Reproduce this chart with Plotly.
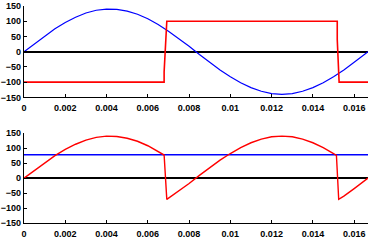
import plotly.graph_objects as go
from plotly.subplots import make_subplots

# --- data ---
t_sine = [0, 0.0005, 0.001, 0.0015, 0.002, 0.0025, 0.003, 0.0035, 0.004, 0.0045,
          0.005, 0.0055, 0.006, 0.0065, 0.007, 0.0075, 0.008, 0.0085, 0.009, 0.0095,
          0.010, 0.0105, 0.011, 0.0115, 0.012, 0.0125, 0.013, 0.0135, 0.014, 0.0145,
          0.015, 0.0155, 0.016, 0.0165, 0.01667]
v_sine = [0, 26, 52, 75, 96, 113, 127, 136, 140, 139,
          133, 123, 108, 89, 67, 43, 18, -9, -35, -60,
          -82, -102, -118, -130, -138, -140, -138, -130, -118, -102,
          -82, -60, -35, -9, 0]

t_square = [0, 0.00679, 0.00679, 0.00692, 0.01518, 0.01518, 0.01527, 0.01667]
v_square = [-100, -100, -67, 100, 100, 40, -100, -100]

t_out = [0, 0.0005, 0.001, 0.0015, 0.002, 0.0025, 0.003, 0.0035, 0.004, 0.0045,
         0.005, 0.0055, 0.006, 0.0065, 0.00679, 0.00692, 0.0075, 0.008, 0.0085, 0.009,
         0.0095, 0.010, 0.0105, 0.011, 0.0115, 0.012, 0.0125, 0.013, 0.0135, 0.014,
         0.0145, 0.015, 0.01514, 0.01525, 0.0155, 0.016, 0.0165, 0.01667]
v_out = [0, 26, 52, 75, 96, 113, 127, 136, 140, 139,
         133, 123, 108, 89, 77, -71, -43, -18, 9, 35,
         60, 82, 102, 118, 130, 138, 140, 138, 130, 118,
         102, 82, 76, -71, -60, -35, -9, 0]

t_avg = [0, 0.01667]
v_avg = [78, 78]

x_ticks = [0, 0.002, 0.004, 0.006, 0.008, 0.01, 0.012, 0.014, 0.016]
x_labels = ["0", "0.002", "0.004", "0.006", "0.008", "0.01", "0.012", "0.014", "0.016"]
y_ticks = [-150, -100, -50, 0, 50, 100, 150]

fig = make_subplots(rows=2, cols=1, vertical_spacing=0.0)

fig.add_trace(go.Scatter(x=t_sine, y=v_sine, mode="lines",
                         line=dict(color="#0000ff", width=1.2), hoverinfo="skip"), row=1, col=1)
fig.add_trace(go.Scatter(x=t_square, y=v_square, mode="lines",
                         line=dict(color="#ff0000", width=1.6), hoverinfo="skip"), row=1, col=1)
fig.add_trace(go.Scatter(x=t_avg, y=v_avg, mode="lines",
                         line=dict(color="#0000ff", width=1.6), hoverinfo="skip"), row=2, col=1)
fig.add_trace(go.Scatter(x=t_out, y=v_out, mode="lines",
                         line=dict(color="#ff0000", width=1.4), hoverinfo="skip"), row=2, col=1)

font = dict(family="Liberation Sans", size=9, color="black", weight="bold")
for r in (1, 2):
    fig.update_xaxes(range=[0, 0.01667], tickvals=x_ticks, ticktext=x_labels,
                     showgrid=False, zeroline=False, showline=True, linecolor="black",
                     linewidth=1.2, ticks="inside", ticklen=3, tickcolor="black",
                     tickfont=font, ticklabelstandoff=2, row=r, col=1)
    fig.update_yaxes(range=[-150, 150], tickvals=y_ticks,
                     showgrid=False, zeroline=True, zerolinecolor="black", zerolinewidth=1.5,
                     showline=True, linecolor="black", linewidth=1.2,
                     ticks="inside", ticklen=3, tickcolor="black",
                     tickfont=font, row=r, col=1)

fig.update_layout(
    width=369, height=240,
    margin=dict(l=24, r=1, t=5, b=13),
    paper_bgcolor="white", plot_bgcolor="white",
    showlegend=False,
)
fig.layout.yaxis.domain = [0.579, 1.0]
fig.layout.yaxis2.domain = [0.0, 0.414]

fig.write_html("out.html")
